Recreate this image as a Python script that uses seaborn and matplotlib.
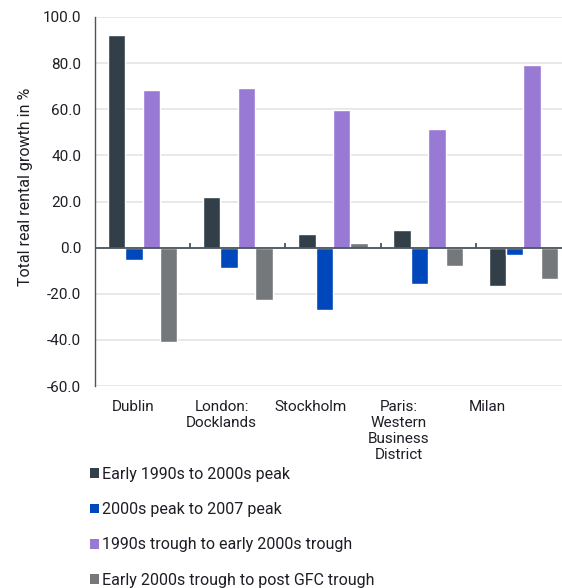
import numpy as np
import pandas as pd
import matplotlib
matplotlib.use('Agg')
import matplotlib.pyplot as plt
from matplotlib.patches import Patch
import seaborn as sns

# chart data
cities = ['Dublin', 'London:\nDocklands', 'Stockholm', 'Paris:\nWestern\nBusiness\nDistrict', 'Milan']
periods = ['Early 1990s to 2000s peak', '2000s peak to 2007 peak',
           '1990s trough to early 2000s trough', 'Early 2000s trough to post GFC trough']
early90s_to_2000s_peak = [92.0, 22.0, 6.0, 7.5, -16.5]
peak2000s_to_2007_peak = [-5.5, -9.0, -27.0, -15.8, -3.0]
trough90s_to_trough2000s = [68.5, 69.0, 59.5, 51.5, 79.0]
trough2000s_to_post_gfc = [-41.0, -22.5, 2.0, -8.0, -13.5]
yticks = [-60, -40, -20, 0, 20, 40, 60, 80, 100]

colors = ['#333f48', '#0047bb', '#9879d3', '#75787b']
text_color = '#1e1e26'

rows = []
for period, vals in zip(periods, [early90s_to_2000s_peak, peak2000s_to_2007_peak,
                                  trough90s_to_trough2000s, trough2000s_to_post_gfc]):
    for city, v in zip(cities, vals):
        rows.append({'city': city, 'period': period, 'value': v})
df = pd.DataFrame(rows)

sns.set_style('white')
plt.rcParams['font.family'] = ['Roboto', 'DejaVu Sans']
plt.rcParams['text.color'] = text_color
fs_tick = 11
fs_text = 11.5

fig = plt.figure(figsize=(5.62, 5.88), dpi=100)
# axes runs a bit past the right edge, like the cropped original
ax = fig.add_axes([95 / 562, 202 / 588, 476 / 562, 369 / 588])

ax.grid(axis='y', color='#e4e4e4', lw=1.2, zorder=0)
ax.set_axisbelow(True)
sns.barplot(data=df, x='city', y='value', hue='period', order=cities, hue_order=periods,
            palette=colors, width=0.73, saturation=1, legend=False, ax=ax, zorder=3)

ax.axhline(0, color='#4a545c', lw=1.3, zorder=4)
ax.vlines(np.arange(0.5, len(cities) - 0.5), 0, 2, color='#4a545c', lw=1.3, zorder=4)

ax.set_ylim(-60, 100)
ax.set_yticks(yticks)
ax.set_yticklabels([f'{v:.1f}' for v in yticks])
ax.set_xlim(-0.5, len(cities) - 0.5)

# x labels in the original sit a little left of the bar groups
ax.set_xticks(np.arange(len(cities)) * 0.93 - 0.1)
ax.set_xticklabels(cities, linespacing=1.2)
ax.tick_params(axis='x', length=0, pad=10, labelsize=fs_tick, colors=text_color)
ax.tick_params(axis='y', length=3, width=1, pad=7, labelsize=fs_tick, color='#4a545c', labelcolor=text_color)

for s in ['top', 'right', 'bottom']:
    ax.spines[s].set_visible(False)
ax.spines['left'].set_color('#4a545c')
ax.spines['left'].set_linewidth(1)

ax.set_xlabel('')
ax.set_ylabel('Total real rental growth in %', fontsize=fs_text, color=text_color)
ax.yaxis.set_label_coords(-0.13, 0.54)

handles = [Patch(facecolor=c, edgecolor='none') for c in colors]
fig.legend(handles, periods, loc='upper left', bbox_to_anchor=(0.16, 0.206),
           frameon=False, fontsize=fs_text, labelspacing=1.27, handlelength=0.55,
           handleheight=0.55, handletextpad=0.2, borderpad=0, borderaxespad=0)

fig.savefig('out.png', dpi=100)
